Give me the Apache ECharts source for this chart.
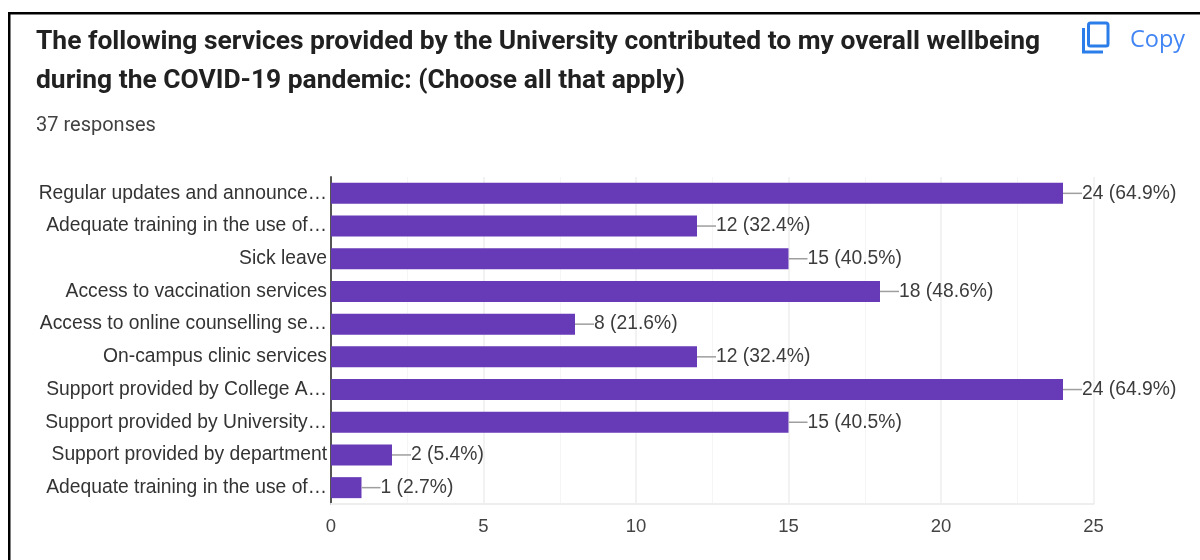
<!DOCTYPE html>
<html>
<head>
<meta charset="utf-8">
<style>html,body{margin:0;padding:0;background:#fff}#c{width:1200px;height:560px}</style>
<script src="https://cdn.jsdelivr.net/npm/echarts@6/dist/echarts.min.js"></script>
</head>
<body>
<div id="c"></div>
<script>
const titleText = "The following services provided by the University contributed to my overall wellbeing\nduring the COVID-19 pandemic: (Choose all that apply)";
const responsesText = "37 responses";
const copyText = "Copy";
const categories = [
  "Regular updates and announce…",
  "Adequate training in the use of…",
  "Sick leave",
  "Access to vaccination services",
  "Access to online counselling se…",
  "On-campus clinic services",
  "Support provided by College A…",
  "Support provided by University…",
  "Support provided by department",
  "Adequate training in the use of…"
];
const counts = [24, 12, 15, 18, 8, 12, 24, 15, 2, 1];
const percents = ["64.9", "32.4", "40.5", "48.6", "21.6", "32.4", "64.9", "40.5", "5.4", "2.7"];

const chart = echarts.init(document.getElementById('c'), null, {renderer: 'canvas'});
chart.setOption({
  animation: false,
  backgroundColor: '#fff',
  title: [
    {text: titleText, left: 36, top: 23, padding: 0,
     textStyle: {fontFamily: 'Roboto', fontSize: 26.4, fontWeight: 700, color: '#212121', lineHeight: 39}},
    {text: responsesText, left: 36, top: 116, padding: 0,
     textStyle: {fontFamily: 'Roboto', fontSize: 20, fontWeight: 400, color: '#424242', lineHeight: 20}},
    {text: copyText, left: 1130, top: 27, padding: 0,
     textStyle: {fontFamily: 'Open Sans', fontSize: 23.5, fontWeight: 400, color: '#4285f4', lineHeight: 26}}
  ],
  grid: {left: 331, right: 106.5, top: 177, bottom: 56, containLabel: false},
  xAxis: {
    type: 'value', min: 0, max: 25, interval: 5,
    axisLine: {show: true, lineStyle: {color: '#eeeeee', width: 2}},
    axisTick: {show: false},
    axisLabel: {fontFamily: 'Liberation Sans', fontSize: 18.5, color: '#444444', margin: 13},
    splitLine: {show: true, lineStyle: {color: '#eeeeee', width: 1.5}},
    minorTick: {show: false, splitNumber: 2},
    minorSplitLine: {show: true, lineStyle: {color: '#f5f5f5', width: 1}}
  },
  yAxis: {
    type: 'category', inverse: true, data: categories,
    axisLine: {show: true, onZero: false, lineStyle: {color: '#555555', width: 2}},
    axisTick: {show: false},
    axisLabel: {fontFamily: 'Liberation Sans', fontSize: 19.3, color: '#333333', margin: 4, interval: 0, padding: [2, 0, 0, 0]}
  },
  series: [{
    type: 'bar',
    data: counts,
    barWidth: 21,
    itemStyle: {color: '#673ab7'},
    label: {
      show: true, position: 'right', distance: 0,
      formatter: p => `{lead|}{val|${p.value} (${percents[p.dataIndex]}%)}`,
      rich: {
        lead: {width: 19, height: 1.5, backgroundColor: '#9e9e9e'},
        val: {fontFamily: 'Liberation Sans', fontSize: 19.3, color: '#3c3c3c'}
      }
    }
  }],
  graphic: [
    {type: 'rect', shape: {x: 8, y: 12, width: 1192, height: 2.5}, style: {fill: '#000'}, silent: true},
    {type: 'rect', shape: {x: 8, y: 12, width: 2.5, height: 548}, style: {fill: '#000'}, silent: true},
    {type: 'rect', shape: {x: 1088.5, y: 23, width: 19.5, height: 23, r: 2},
     style: {fill: 'none', stroke: '#2b7de9', lineWidth: 3}, silent: true},
    {type: 'polyline', shape: {points: [[1083.5, 28], [1083.5, 52], [1103, 52]]},
     style: {fill: 'none', stroke: '#2b7de9', lineWidth: 3}, silent: true}
  ]
});
</script>
</body>
</html>
